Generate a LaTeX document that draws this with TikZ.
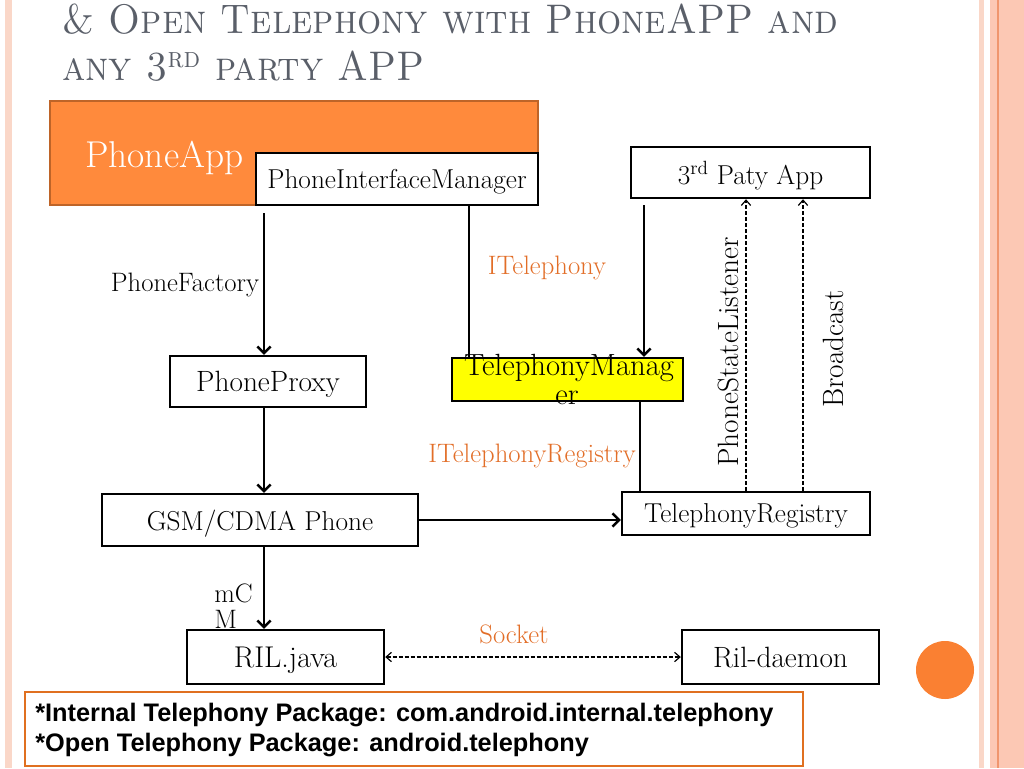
\documentclass[tikz,border=0pt]{standalone}
\usepackage{fontspec}
\newfontfamily\footfont{Liberation Sans}
\usetikzlibrary{arrows.meta}
\definecolor{titlegray}{RGB}{90,95,105}
\definecolor{appor}{RGB}{255,138,60}
\definecolor{appordark}{RGB}{190,100,40}
\definecolor{labor}{RGB}{226,110,40}
\definecolor{footor}{RGB}{224,112,32}
\definecolor{tmyellow}{RGB}{255,255,0}
\definecolor{stripe}{RGB}{252,200,180}
\definecolor{stripelight}{RGB}{250,215,200}
\definecolor{stripedark}{RGB}{240,150,110}
\definecolor{dotor}{RGB}{250,128,50}
\tikzset{
  box/.style={draw=black, line width=1.8pt, fill=white, inner sep=0pt, text depth=0pt, font=\fontsize{20.5}{24}\selectfont},
  lbl/.style={inner sep=0pt, font=\fontsize{20}{24}\selectfont},
  olbl/.style={lbl, text=labor},
  thickarr/.style={line width=2.1pt, -{Straight Barb[length=5pt,width=10pt,line width=1.8pt]}},
  thinline/.style={line width=1pt},
  dasharr/.style={line width=0.9pt, dash pattern=on 3pt off 1.5pt, -{Straight Barb[length=4pt,width=7pt,line width=0.9pt]}},
  ttl/.style={anchor=base west, inner sep=0pt, text=titlegray, font=\fontsize{31}{36}\selectfont},
}
\begin{document}
\begin{tikzpicture}[x=0.75pt,y=-0.75pt]
\useasboundingbox (0,0) rectangle (1024,768);
% slide decorations
\fill[stripelight] (5,0) rectangle (12,768);
\fill[stripelight] (979,0) rectangle (984,768);
\fill[stripe] (990,0) rectangle (1024,768);
\fill[stripedark] (997,0) rectangle (999,768);
\fill[dotor] (945,670) circle (29);
% title
\node[ttl] (t1) at (62,33) {\scalebox{0.92}[1]{\textsc{\& Open Telephony with PhoneAPP and}}};
\node[ttl] (t2) at (62,80) {\scalebox{0.92}[1]{\textsc{any 3\textsuperscript{rd} party APP}}};
% PhoneApp block
\node[draw=appordark, line width=1.2pt, fill=appor, minimum width=366pt, minimum height=78pt, inner sep=0pt] (app) at (294,153) {};
\node[anchor=base west, inner sep=0pt, text=white, font=\fontsize{28}{32}\selectfont] (appt) at (85,167) {PhoneApp};
\node[box, minimum width=211.5pt, minimum height=39pt] (pim) at (397,179) {PhoneInterfaceManager};
\node[box, minimum width=179.25pt, minimum height=38.25pt] (tp) at (750.5,172.5) {3\textsuperscript{rd} Paty App};
\node[box, minimum width=147pt, minimum height=38.25pt, font=\fontsize{22}{24}\selectfont] (pp) at (268,381.5) {PhoneProxy};
\node[box, fill=tmyellow, minimum width=173.25pt, minimum height=32.25pt] (tm) at (567.5,379.5) {};
\node[anchor=base, inner sep=0pt, font=\fontsize{23}{24}\selectfont] (tmt1) at (569,375) {TelephonyManag};
\node[anchor=base, inner sep=0pt, font=\fontsize{23}{24}\selectfont] (tmt2) at (567,404) {er};
\node[box, minimum width=237pt, minimum height=39pt] (gsm) at (260,520) {GSM/CDMA Phone};
\node[box, minimum width=186pt, minimum height=32.25pt] (tr) at (746,513.5) {TelephonyRegistry};
\node[box, minimum width=147.75pt, minimum height=40.5pt, font=\fontsize{22.5}{24}\selectfont] (ril) at (285.5,657) {RIL.java};
\node[box, minimum width=147.75pt, minimum height=40.5pt, font=\fontsize{22}{24}\selectfont] (rild) at (780.5,657) {Ril-daemon};
% footer
\node[draw=footor, line width=1.6pt, minimum width=583.5pt, minimum height=55.5pt, inner sep=0pt] (foot) at (414,729) {};
\node[anchor=west, inner sep=0pt, align=left, font=\footfont\bfseries\fontsize{19}{22.5}\selectfont] (foott) at (35,730) {*Internal Telephony Package: com.android.internal.telephony\\*Open Telephony Package: android.telephony};
% connectors
\coordinate (lx) at (264,213);
\coordinate (itx) at (469,0);
\coordinate (tmx) at (644,205);
\coordinate (trx) at (640,0);
\coordinate (psx) at (746,0);
\coordinate (bcx) at (803,0);
\draw[thickarr] (lx) -- (lx |- pp.north);
\draw[thickarr] (pp.south -| lx) -- (gsm.north -| lx);
\draw[thickarr] (gsm.south -| lx) -- (ril.north -| lx);
\draw[thinline] (pim.south -| itx) -- (tm.north -| itx);
\draw[thickarr] (tmx) -- (tmx |- tm.north);
\draw[thinline] (tm.south -| trx) -- (tr.north -| trx);
\draw[thickarr] (gsm.east) -- (gsm.east -| tr.west);
\draw[dasharr] (tr.north -| psx) -- (tp.south -| psx);
\draw[dasharr] (tr.north -| bcx) -- (tp.south -| bcx);
\draw[dasharr, {Straight Barb[length=4pt,width=7pt,line width=0.9pt]}-{Straight Barb[length=4pt,width=7pt,line width=0.9pt]}] (ril.east) -- (rild.west);
% labels
\node[lbl] (pfl) at (185,285) {PhoneFactory};
\node[olbl] (itl) at (547,268) {ITelephony};
\node[olbl] (itrl) at (532,456) {ITelephonyRegistry};
\node[lbl, rotate=90, font=\fontsize{22}{24}\selectfont] (psl) at (728,352) {PhoneStateListener};
\node[lbl, rotate=90, font=\fontsize{22}{24}\selectfont] (bcl) at (833,349) {Broadcast};
\node[lbl, anchor=west, align=left, font=\fontsize{20}{19.5}\selectfont] (mcm) at (214,606) {mC\\M};
\node[olbl] (sockl) at (514,634) {Socket};
\end{tikzpicture}
\end{document}
